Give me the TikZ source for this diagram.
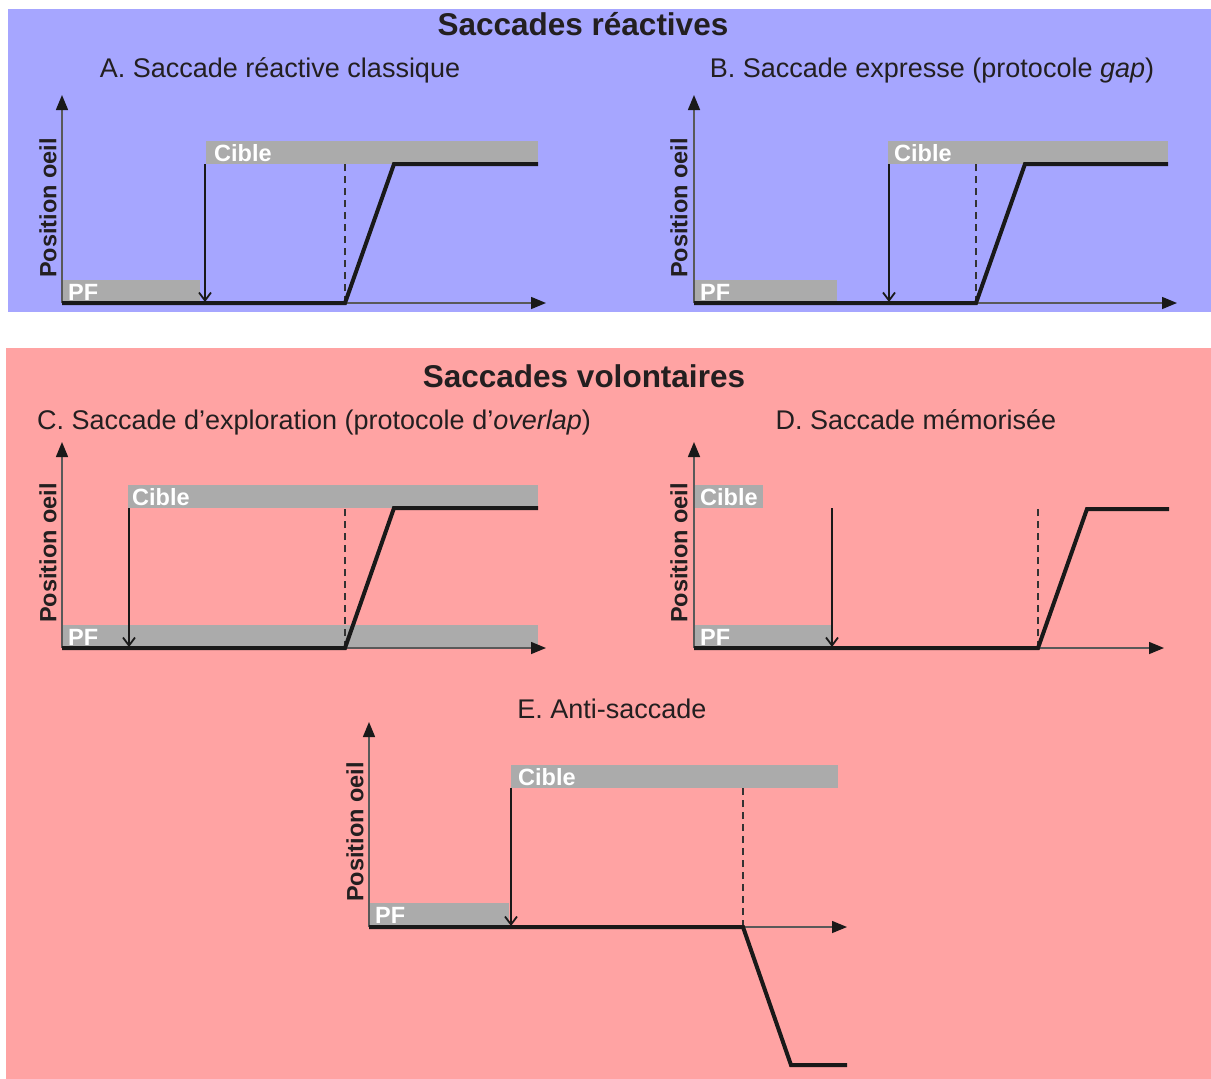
\documentclass[tikz,border=0pt]{standalone}
\usepackage{fontspec}
\setmainfont{Liberation Sans}
\usetikzlibrary{arrows.meta}

\definecolor{reactblue}{HTML}{A6A6FF}
\definecolor{volpink}{HTML}{FFA3A3}
\definecolor{bargrey}{HTML}{ABABAB}
\definecolor{inkgrey}{HTML}{231F20}

\begin{document}
\begin{tikzpicture}[x=1pt, y=-1pt,
  heading/.style={font=\fontsize{31.5}{36}\selectfont\bfseries, text=inkgrey, anchor=base, inner sep=0pt},
  sub/.style={font=\fontsize{27}{32}\selectfont, text=inkgrey, anchor=base, inner sep=0pt},
  ylab/.style={font=\fontsize{23.5}{28}\selectfont\bfseries, text=inkgrey, rotate=90, inner sep=0pt},
  bar/.style={fill=bargrey, inner sep=0pt, anchor=north west, minimum height=23pt},
  bartxt/.style={font=\fontsize{23.5}{28}\selectfont\bfseries, text=white, anchor=base west, inner sep=0pt},
  axis/.style={line width=1.5pt, draw=black!65, -{Triangle[length=15pt,width=12pt,color=black!90]}},
  eye/.style={line width=4pt, draw=black!90},
  onset/.style={line width=2.2pt, draw=black!80, dash pattern=on 7pt off 5pt},
  cue/.style={line width=1.8pt, draw=black!90, -{Straight Barb[length=8pt,width=12pt]}, shorten >=1pt}]
\useasboundingbox (0,0) rectangle (1211,1079);

% fonds
\fill[reactblue] (8,9) rectangle (1211,312);
\fill[volpink] (6,348) rectangle (1211,1079);

% titres
\node[heading] (hR) at (583,35) {Saccades réactives};
\node[sub] (tA) at (280,77) {A. Saccade réactive classique};
\node[sub] (tB) at (932,77) {B. Saccade expresse (protocole \textit{gap})};
\node[heading] (hV) at (584,387) {Saccades volontaires};
\node[sub] (tC) at (314,429) {C. Saccade d’exploration (protocole d’\textit{overlap})};
\node[sub] (tD) at (916,429) {D. Saccade mémorisée};
\node[sub] (tE) at (612,718) {E. Anti-saccade};

% A
\node[bar, minimum width=138pt] (pfA) at (62,280) {};
\node[bar, minimum width=332pt] (cibA) at (206,141) {};
\node[bartxt] (pfAt) at ([shift={(6,-3)}]pfA.south west) {PF};
\node[bartxt] (cibAt) at ([shift={(8,-3)}]cibA.south west) {Cible};
\node[ylab] (lA) at (48,208) {Position oeil};
\coordinate (oA) at (62,303);
\coordinate (yA) at (62,95);
\coordinate (xA) at (546,303);
\coordinate (sA) at (345,303);
\coordinate (pA) at (394,164);
\coordinate (fA) at (538,164);
\draw[axis] (oA) -- (yA);
\draw[axis] (oA) -- (xA);
\draw[onset] (sA) -- (sA |- cibA.south);
\draw[cue] ([xshift=-1pt]cibA.south west) -- ([xshift=-1pt]cibA.south west |- oA);
\draw[eye] (oA) -- (sA) -- (pA) -- (fA);

% B
\node[bar, minimum width=143pt] (pfB) at (694,280) {};
\node[bar, minimum width=280pt] (cibB) at (888,141) {};
\node[bartxt] (pfBt) at ([shift={(6,-3)}]pfB.south west) {PF};
\node[bartxt] (cibBt) at ([shift={(6,-3)}]cibB.south west) {Cible};
\node[ylab] (lB) at (679,208) {Position oeil};
\coordinate (oB) at (694,303);
\coordinate (yB) at (694,95);
\coordinate (xB) at (1177,303);
\coordinate (sB) at (976,303);
\coordinate (pB) at (1025,164);
\coordinate (fB) at (1168,164);
\draw[axis] (oB) -- (yB);
\draw[axis] (oB) -- (xB);
\draw[onset] (sB) -- (sB |- cibB.south);
\draw[cue] ([xshift=1pt]cibB.south west) -- ([xshift=1pt]cibB.south west |- oB);
\draw[eye] (oB) -- (sB) -- (pB) -- (fB);

% C
\node[bar, minimum width=476pt] (pfC) at (62,625) {};
\node[bar, minimum width=410pt] (cibC) at (128,485) {};
\node[bartxt] (pfCt) at ([shift={(6,-3)}]pfC.south west) {PF};
\node[bartxt] (cibCt) at ([shift={(4,-3)}]cibC.south west) {Cible};
\node[ylab] (lC) at (48,553) {Position oeil};
\coordinate (oC) at (62,648);
\coordinate (yC) at (62,442);
\coordinate (xC) at (546,648);
\coordinate (sC) at (345,648);
\coordinate (pC) at (394,508);
\coordinate (fC) at (538,508);
\draw[axis] (oC) -- (yC);
\draw[axis] (oC) -- (xC);
\draw[onset] (sC) -- (sC |- cibC.south);
\draw[cue] ([xshift=1pt]cibC.south west) -- ([xshift=1pt]cibC.south west |- oC);
\draw[eye] (oC) -- (sC) -- (pC) -- (fC);

% D
\node[bar, minimum width=138pt] (pfD) at (694,625) {};
\node[bar, minimum width=69pt] (cibD) at (694,485) {};
\node[bartxt] (pfDt) at ([shift={(6,-3)}]pfD.south west) {PF};
\node[bartxt] (cibDt) at ([shift={(6,-3)}]cibD.south west) {Cible};
\node[ylab] (lD) at (679,553) {Position oeil};
\coordinate (oD) at (694,648);
\coordinate (yD) at (694,442);
\coordinate (xD) at (1164,648);
\coordinate (cD) at (832,508);
\coordinate (sD) at (1038,648);
\coordinate (pD) at (1087,509);
\coordinate (fD) at (1169,509);
\draw[axis] (oD) -- (yD);
\draw[axis] (oD) -- (xD);
\draw[onset] (sD) -- (sD |- cD);
\draw[cue] (cD) -- (cD |- oD);
\draw[eye] (oD) -- (sD) -- (pD) -- (fD);

% E
\node[bar, minimum width=140pt] (pfE) at (369,903) {};
\node[bar, minimum width=327pt] (cibE) at (511,765) {};
\node[bartxt] (pfEt) at ([shift={(6,-3)}]pfE.south west) {PF};
\node[bartxt] (cibEt) at ([shift={(7,-3)}]cibE.south west) {Cible};
\node[ylab] (lE) at (355,832) {Position oeil};
\coordinate (oE) at (369,927);
\coordinate (yE) at (369,722);
\coordinate (xE) at (847,927);
\coordinate (sE) at (743,927);
\coordinate (pE) at (791,1065);
\coordinate (fE) at (847,1065);
\draw[axis] (oE) -- (yE);
\draw[axis] (oE) -- (xE);
\draw[onset] (sE) -- (sE |- cibE.south);
\draw[cue] (cibE.south west) -- (cibE.south west |- oE);
\draw[eye] (oE) -- (sE) -- (pE) -- (fE);
\end{tikzpicture}
\end{document}
